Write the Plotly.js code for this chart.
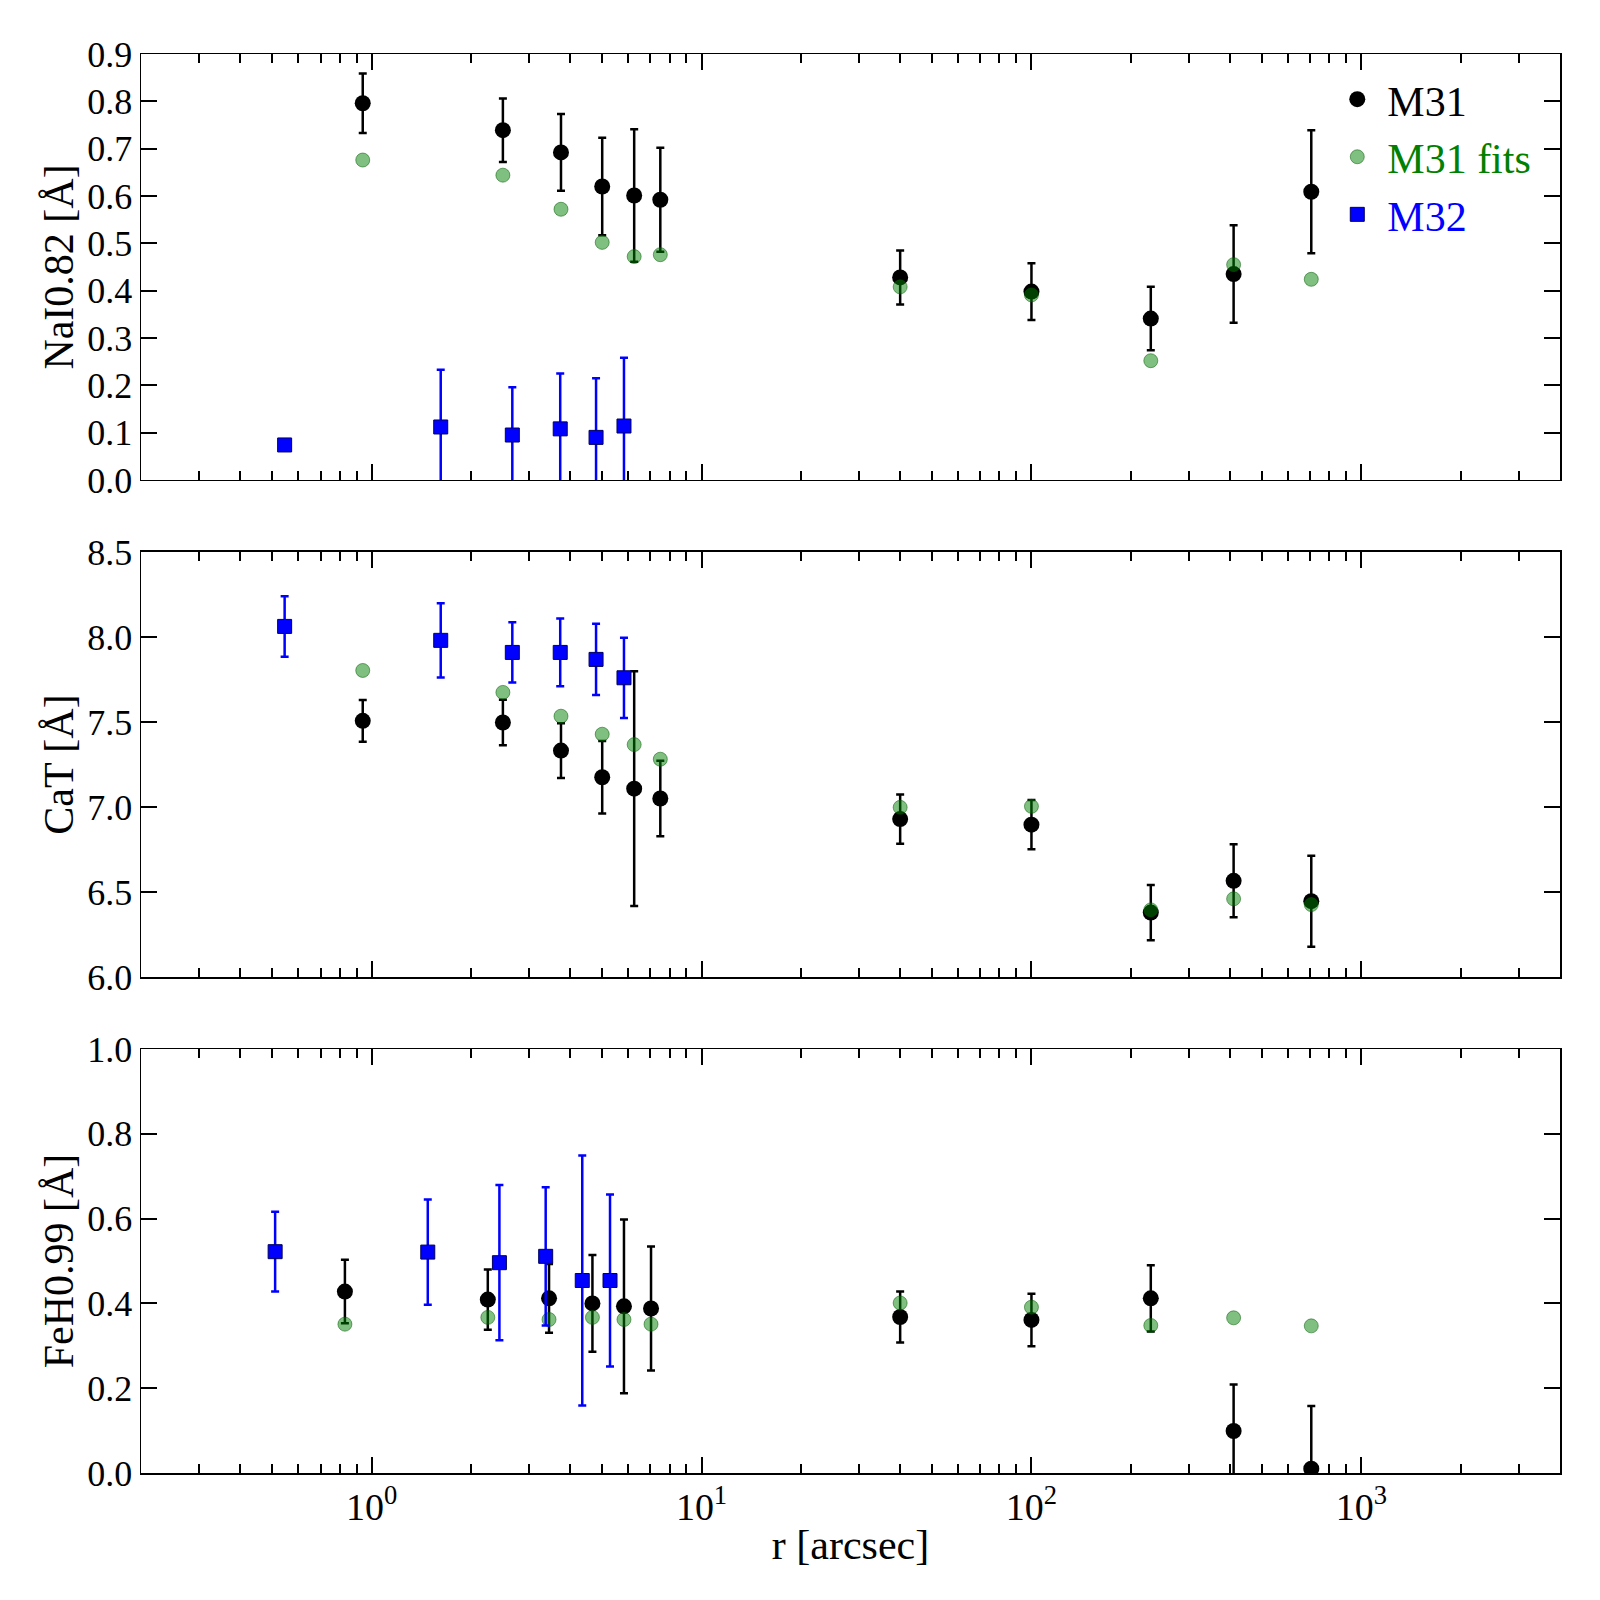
<!DOCTYPE html>
<html>
<head>
<meta charset="utf-8">
<script src="https://cdn.plot.ly/plotly-3.0.1.min.js"></script>
<style>
  body { margin: 0; background: #fff; }
  #chart { width: 1600px; height: 1600px; }
</style>
</head>
<body>
<div id="chart"></div>
<script>
// radii (arcsec)
const rM31 = [0.94, 2.5, 3.75, 5.0, 6.25, 7.5, 40, 100, 230, 410, 705];
const rM32 = [0.545, 1.62, 2.67, 3.73, 4.79, 5.82];
const rM31Fe = [0.83, 2.25, 3.45, 4.67, 5.82, 7.03, 40, 100, 230, 410, 705];
const rM32Fe = [0.51, 1.48, 2.44, 3.37, 4.35, 5.28];

// NaI0.82
const naM31 = [0.796, 0.739, 0.692, 0.620, 0.601, 0.592, 0.428, 0.398, 0.341, 0.435, 0.609];
const naM31Err = [0.063, 0.067, 0.081, 0.103, 0.140, 0.110, 0.057, 0.060, 0.067, 0.103, 0.130];
const naFits = [0.676, 0.644, 0.572, 0.502, 0.472, 0.476, 0.408, 0.391, 0.252, 0.455, 0.424];
const naM32 = [0.074, 0.112, 0.095, 0.108, 0.090, 0.114];
const naM32Err = [null, 0.121, 0.101, 0.117, 0.125, 0.144];

// CaT
const caM31 = [7.507, 7.497, 7.332, 7.175, 7.108, 7.050, 6.929, 6.896, 6.379, 6.566, 6.446];
const caM31Err = [0.123, 0.134, 0.161, 0.213, 0.690, 0.222, 0.145, 0.145, 0.162, 0.215, 0.268];
const caFits = [7.803, 7.674, 7.534, 7.428, 7.367, 7.281, 6.998, 7.004, 6.395, 6.460, 6.426];
const caM32 = [8.062, 7.980, 7.909, 7.909, 7.868, 7.760];
const caM32Err = [0.178, 0.218, 0.177, 0.199, 0.209, 0.236];

// FeH0.99
const feM31 = [0.428, 0.409, 0.412, 0.400, 0.393, 0.388, 0.368, 0.361, 0.412, 0.099, 0.010];
const feM31Err = [0.075, 0.071, 0.081, 0.114, 0.205, 0.146, 0.060, 0.062, 0.078, 0.110, 0.148];
const feFits = [0.351, 0.367, 0.362, 0.367, 0.362, 0.351, 0.401, 0.391, 0.348, 0.366, 0.347];
const feM32 = [0.522, 0.521, 0.496, 0.511, 0.454, 0.454];
const feM32Err = [0.094, 0.124, 0.183, 0.163, 0.295, 0.203];

const yTitles = ['NaI0.82 [Å]', 'CaT [Å]', 'FeH0.99 [Å]'];
const yRanges = [[0, 0.9], [6.0, 8.5], [0, 1.0]];
const yDticks = [0.1, 0.5, 0.2];
const xMajor = [1, 10, 100, 1000];
const xMajorText = ['10<sup>0</sup>', '10<sup>1</sup>', '10<sup>2</sup>', '10<sup>3</sup>'];

const FONT = "'Liberation Serif', 'Times New Roman', serif";

function minorTicks() {
    const out = [];
    for (const dec of [0.1, 1, 10, 100, 1000]) {
        for (let k = 2; k <= 9; k++) {
            const v = k * dec;
            if (v >= 0.2 && v <= 4000) out.push(v);
        }
    }
    return out;
}

function panelTraces(i, r31, m31, m31Err, fits, r32, m32, m32Err) {
    const xa = i === 1 ? 'x' : 'x' + i;
    const ya = i === 1 ? 'y' : 'y' + i;
    const first = i === 1;
    return [
        {
            x: r31, y: m31, xaxis: xa, yaxis: ya,
            type: 'scatter', mode: 'markers', name: 'M31',
            legendgroup: 'm31', showlegend: first,
            marker: { color: 'black', size: 16, symbol: 'circle' },
            error_y: { type: 'data', array: m31Err, color: 'black', thickness: 2.5, width: 4 }
        },
        {
            x: r31, y: fits, xaxis: xa, yaxis: ya,
            type: 'scatter', mode: 'markers',
            name: '<span style="color:#008000">M31 fits</span>',
            legendgroup: 'fits', showlegend: first,
            marker: { color: 'rgba(0,128,0,0.5)', size: 14, line: { color: 'rgba(0,90,0,0.5)', width: 1 } }
        },
        {
            x: r32, y: m32, xaxis: xa, yaxis: ya,
            type: 'scatter', mode: 'markers',
            name: '<span style="color:#0000ff">M32</span>',
            legendgroup: 'm32', showlegend: first,
            marker: { color: '#0000ff', size: 14, symbol: 'square', line: { color: '#000060', width: 1 } },
            error_y: { type: 'data', array: m32Err, color: '#0000ff', thickness: 2.5, width: 4 }
        }
    ];
}

const traces = [
    ...panelTraces(1, rM31, naM31, naM31Err, naFits, rM32, naM32, naM32Err),
    ...panelTraces(2, rM31, caM31, caM31Err, caFits, rM32, caM32, caM32Err),
    ...panelTraces(3, rM31Fe, feM31, feM31Err, feFits, rM32Fe, feM32, feM32Err)
];

const domains = [[0.6998, 1], [0.3495, 0.6491], [0, 0.2988]];

function xAxis(i) {
    const ax = {
        type: 'log',
        range: [Math.log10(0.2), Math.log10(4000)],
        domain: [0, 1],
        anchor: i === 1 ? 'y' : 'y' + i,
        tickmode: 'array', tickvals: xMajor, ticktext: xMajorText,
        showticklabels: i === 3,
        ticks: 'inside', ticklen: 16, tickwidth: 2, tickcolor: 'black',
        minor: { tickmode: 'array', tickvals: minorTicks(), ticks: 'inside', ticklen: 9, tickwidth: 2, tickcolor: 'black' },
        showline: true, linecolor: 'black', linewidth: 1.5, mirror: 'ticks',
        showgrid: false, zeroline: false,
        tickfont: { family: FONT, size: 38, color: 'black' }
    };
    if (i === 3) {
        ax.title = { text: 'r [arcsec]', font: { family: FONT, size: 42, color: 'black' }, standoff: 2 };
    }
    return ax;
}

function yAxis(i) {
    return {
        range: yRanges[i - 1],
        domain: domains[i - 1],
        anchor: i === 1 ? 'x' : 'x' + i,
        dtick: yDticks[i - 1], tick0: 0, tickformat: '.1f',
        ticks: 'inside', ticklen: 16, tickwidth: 2, tickcolor: 'black',
        showline: true, linecolor: 'black', linewidth: 1.5, mirror: 'ticks',
        showgrid: false, zeroline: false,
        tickfont: { family: FONT, size: 36, color: 'black' },
        title: { text: yTitles[i - 1], font: { family: FONT, size: 42, color: 'black' }, standoff: 0 }
    };
}

const layout = {
    width: 1600, height: 1600,
    paper_bgcolor: 'white', plot_bgcolor: 'white',
    margin: { l: 141, r: 40, t: 54, b: 127 },
    font: { family: FONT, color: 'black' },
    xaxis: xAxis(1), xaxis2: xAxis(2), xaxis3: xAxis(3),
    yaxis: yAxis(1), yaxis2: yAxis(2), yaxis3: yAxis(3),
    legend: {
        x: 0.836, y: 0.992, xanchor: 'left', yanchor: 'top',
        bgcolor: 'rgba(0,0,0,0)', borderwidth: 0,
        font: { family: FONT, size: 42, color: 'black' },
        itemwidth: 50, tracegroupgap: 0
    }
};

Plotly.newPlot('chart', traces, layout, { displayModeBar: false, staticPlot: true });
</script>
</body>
</html>
